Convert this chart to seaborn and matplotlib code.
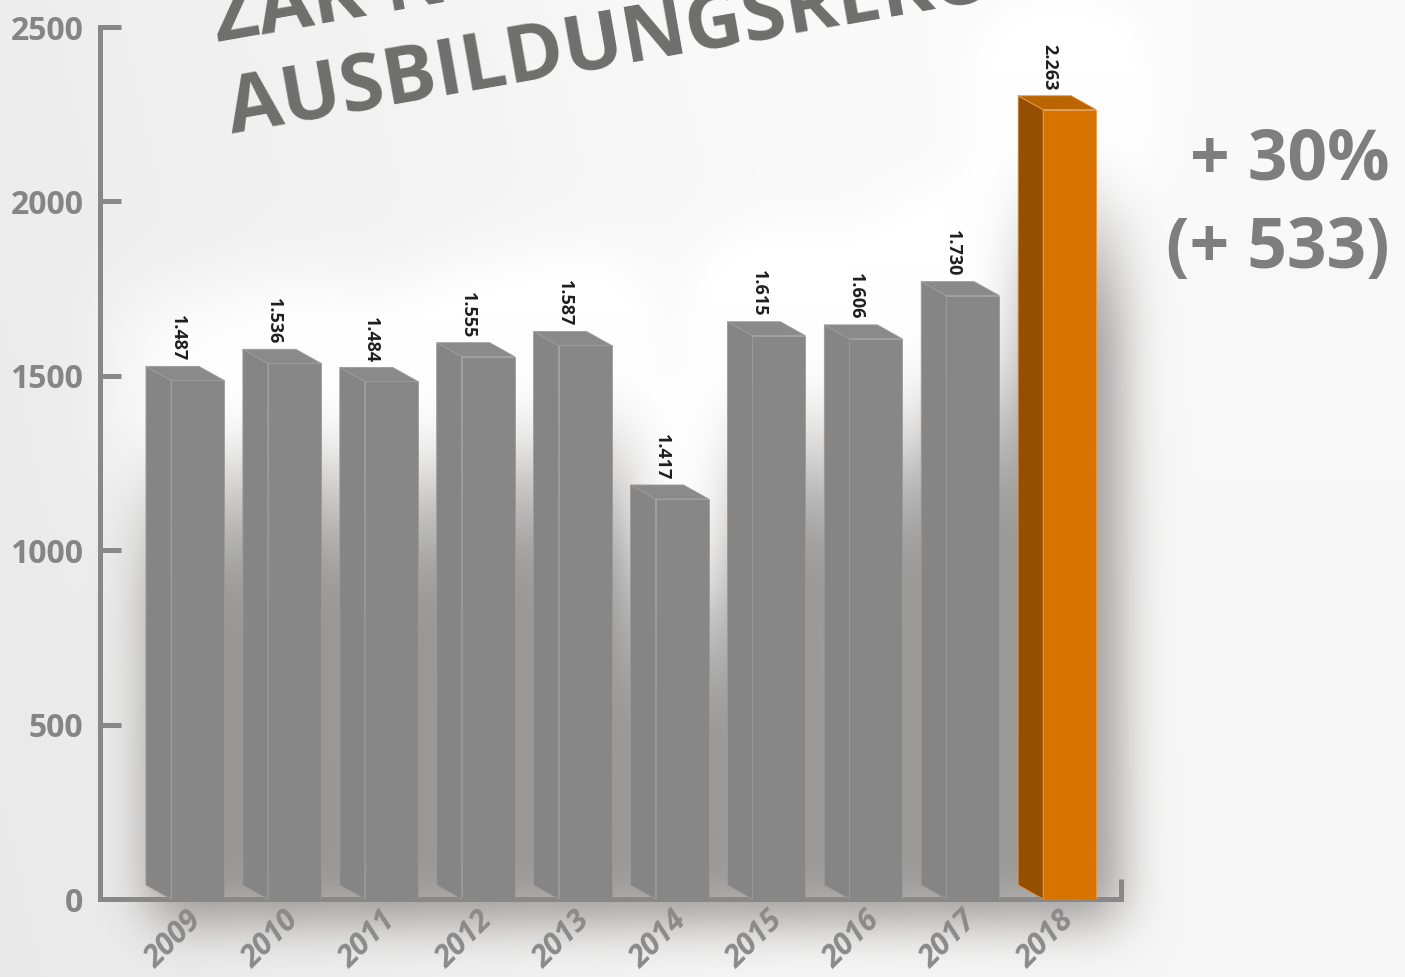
import numpy as np
import matplotlib
matplotlib.use('Agg')
import matplotlib.pyplot as plt
import seaborn as sns
from matplotlib.patches import Polygon

# data
years = ['2009', '2010', '2011', '2012', '2013', '2014', '2015', '2016', '2017', '2018']
# bar heights as drawn against the axis (the 2014 bar is drawn at ~1147 although labelled 1.417)
heights = [1487, 1536, 1484, 1555, 1587, 1147, 1615, 1606, 1730, 2263]
value_labels = ['1.487', '1.536', '1.484', '1.555', '1.587', '1.417', '1.615', '1.606', '1.730', '2.263']
y_ticks = [0, 500, 1000, 1500, 2000, 2500]

front_colors = ['#878787'] * 9 + ['#d87300']
side_colors = ['#858585'] * 9 + ['#944f00']
top_colors = ['#8a8a8a'] * 9 + ['#bb6500']
edge_colors = ['#9b9b9b'] * 9 + ['#e39a50']

title_1 = 'ZAK NEUER'
title_2 = 'AUSBILDUNGSREKORD'
note_1 = '+ 30%'
note_2 = '(+ 533)'

sns.set_theme(style='white')
plt.rcParams['font.family'] = ['Open Sans', 'DejaVu Sans']

W, H = 1405, 977
fig = plt.figure(figsize=(W / 100, H / 100), dpi=100)
fig.patch.set_facecolor('#efefef')

bg = fig.add_axes([0, 0, 1, 1], zorder=0)
bg.set_axis_off()
ax = fig.add_axes([100 / W, 78 / H, 1021 / W, 872 / H], zorder=1)
ax.patch.set_alpha(0)

sns.barplot(x=years, y=heights, hue=years, palette=front_colors, legend=False,
            width=0.547, saturation=1, ax=ax, zorder=3)
ax.set_xlim(-1.006, 9.53)
ax.set_ylim(0, 2500)

# pseudo 3d: side and top faces
dx, dy = -0.258, 40
bars = sorted(ax.patches, key=lambda p: p.get_x())
for i, p in enumerate(bars):
    x0, w, h = p.get_x(), p.get_width(), p.get_height()
    p.set_edgecolor(edge_colors[i])
    p.set_linewidth(0.6)
    side = [(x0, 0), (x0, h), (x0 + dx, h + dy), (x0 + dx, dy)]
    top = [(x0, h), (x0 + w, h), (x0 + w + dx, h + dy), (x0 + dx, h + dy)]
    ax.add_patch(Polygon(side, closed=True, fc=side_colors[i], ec=edge_colors[i], lw=0.6, zorder=3))
    ax.add_patch(Polygon(top, closed=True, fc=top_colors[i], ec=edge_colors[i], lw=0.6, zorder=3))
    ax.text(x0 + w / 2 - 0.206, h + dy + 14, value_labels[i], rotation=-90,
            ha='center', va='bottom', fontsize=13, fontweight='bold', color='#1e1e1e', zorder=4)


# background with a soft shadow behind the bars
def blur(a, s):
    r = int(3 * s)
    k = np.exp(-0.5 * (np.arange(-r, r + 1) / s) ** 2)
    k /= k.sum()
    a = np.apply_along_axis(lambda v: np.convolve(v, k, mode='same'), 0, a)
    a = np.apply_along_axis(lambda v: np.convolve(v, k, mode='same'), 1, a)
    return a


rows = np.arange(H)[:, None].astype(float)
mask = np.zeros((H, W))
glow = np.zeros((H, W))
for i, p in enumerate(bars):
    x0, w, h = p.get_x(), p.get_width(), p.get_height()
    (l, b), (r, t) = ax.transData.transform([(x0 + dx, 0), (x0 + w, h + dy)])
    ramp = np.clip((t - 60 - rows) / 170.0, 0, 1)
    ramp[rows < b - 22] = 0
    cols = slice(int(l) + 6, int(r) + 22)
    mask[:, cols] = np.maximum(mask[:, cols], np.repeat(ramp, cols.stop - cols.start, axis=1))
    glow[int(t) - 120:int(t) + 70, int(l) - 20:int(r) + 30] = 1
mask = blur(mask, 26)
glow = blur(glow, 35)

xx = np.linspace(0, 1, W)[None, :]
yy = np.linspace(0, 1, H)[:, None]
base = 0.915 + 0.05 * np.clip(xx * 1.8, 0, 1) + 0.015 * yy
base = np.clip(base + 0.06 * glow, 0, 1)
alpha = np.clip(mask * 0.66, 0, 1)
img = np.zeros((H, W, 3))
shade = np.array([0.41, 0.39, 0.375])
for c in range(3):
    img[:, :, c] = base * (1 - alpha) + shade[c] * alpha
bg.imshow(img, origin='lower', extent=[0, W, 0, H], aspect='auto')
bg.set_xlim(0, W)
bg.set_ylim(0, H)

# axes styling
axis_gray = '#888888'
sns.despine(ax=ax, top=True, right=True)
for s in ['left', 'bottom']:
    ax.spines[s].set_color(axis_gray)
    ax.spines[s].set_linewidth(3.6)
ax.plot([1, 1], [0, 0.023], transform=ax.transAxes, color=axis_gray, lw=3.6,
        clip_on=False, solid_capstyle='butt')

ax.set_yticks(y_ticks)
ax.set_yticklabels([str(v) for v in y_ticks], fontsize=23, fontweight='bold', color='#858585')
ax.tick_params(axis='y', direction='in', length=15, width=3.6, color=axis_gray, pad=12, left=True)
ax.set_xticks(range(len(years)))
ax.set_xticklabels(years, rotation=45, ha='right', va='center', rotation_mode='anchor',
                   fontsize=22, fontweight='bold', fontstyle='italic', color='#8a8a8a')
ax.tick_params(axis='x', length=0, pad=12)
ax.set_xlabel('')
ax.set_ylabel('')

# title and note
fig.text(217 / W, 1 - 42 / H, title_1, rotation=10, rotation_mode='anchor', ha='left', va='baseline',
         fontsize=57, fontweight='bold', color='#6e6e6c', zorder=2)
fig.text(232 / W, 1 - 133 / H, title_2, rotation=10, rotation_mode='anchor', ha='left', va='baseline',
         fontsize=57, fontweight='bold', color='#6e6e6c', zorder=2)
fig.text(1390 / W, 1 - 162 / H, note_1, ha='right', va='center', fontsize=50,
         fontweight='bold', color='#7e7e7e', zorder=2)
fig.text(1390 / W, 1 - 250 / H, note_2, ha='right', va='center', fontsize=50,
         fontweight='bold', color='#7e7e7e', zorder=2)

fig.savefig('out.png', dpi=100)
